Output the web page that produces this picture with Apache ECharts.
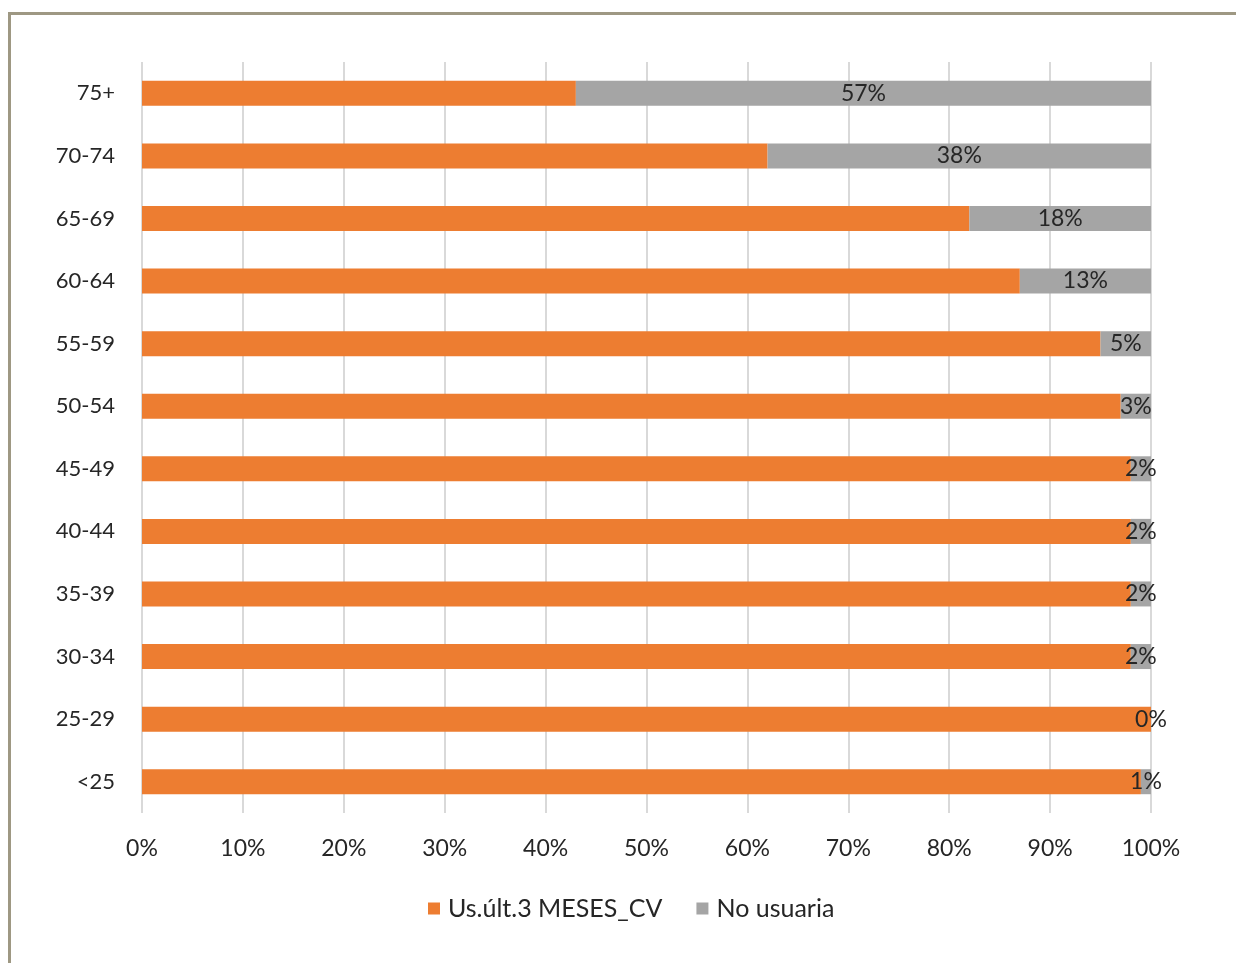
<!DOCTYPE html>
<html>
<head>
<meta charset="utf-8">
<script src="https://cdn.jsdelivr.net/npm/echarts@6/dist/echarts.min.js"></script>
<style>
  html, body { margin: 0; padding: 0; background: #ffffff; }
  #frame {
    position: absolute; left: 0; top: 0; width: 1236px; height: 963px;
    background: #ffffff; overflow: hidden;
  }
  #border {
    position: absolute; left: 8px; top: 12px; right: -10px; bottom: -10px;
    border-top: 3px solid #9e9883; border-left: 3px solid #9e9883;
  }
  #chart { position: absolute; left: 0; top: 0; width: 1236px; height: 963px; }
</style>
</head>
<body>
<div id="frame">
  <div id="border"></div>
  <div id="chart"></div>
</div>
<script>
// Age groups, listed bottom to top as drawn on the category axis
const categories = ['<25', '25-29', '30-34', '35-39', '40-44', '45-49', '50-54', '55-59', '60-64', '65-69', '70-74', '75+'];
// Share (%) of users in the last three months
const usersLast3Months = [99, 100, 98, 98, 98, 98, 97, 95, 87, 82, 62, 43];
// Share (%) of non-users
const nonUsers = [1, 0, 2, 2, 2, 2, 3, 5, 13, 18, 38, 57];
const xTicks = [0, 10, 20, 30, 40, 50, 60, 70, 80, 90, 100];

const font = 'Lato, "Open Sans", sans-serif';
const textColor = '#262626';
const chart = echarts.init(document.getElementById('chart'), null, { renderer: 'canvas' });

chart.setOption({
  animation: false,
  textStyle: { fontFamily: font },
  grid: { left: 142, right: 85, top: 62, height: 751, containLabel: false },
  legend: {
    top: 896,
    left: 428,
    itemWidth: 12,
    itemHeight: 12,
    itemGap: 34,
    padding: 0,
    icon: 'rect',
    textStyle: { fontFamily: font, fontSize: 25, color: textColor, padding: [0, 0, 0, 3] },
    data: ['Us.últ.3 MESES_CV', 'No usuaria']
  },
  xAxis: {
    type: 'value',
    min: xTicks[0],
    max: xTicks[xTicks.length - 1],
    interval: 10,
    axisLine: { show: false },
    axisTick: { show: false },
    splitLine: { show: true, lineStyle: { color: '#d9d9d9', width: 2 } },
    axisLabel: {
      margin: 24,
      fontFamily: font,
      fontSize: 23,
      color: textColor,
      formatter: v => v + '%'
    }
  },
  yAxis: {
    type: 'category',
    data: categories,
    axisLine: { show: false },
    axisTick: { show: false },
    axisLabel: { margin: 27, fontFamily: font, fontSize: 22, color: textColor }
  },
  series: [
    {
      name: 'Us.últ.3 MESES_CV',
      type: 'bar',
      stack: 'total',
      barWidth: 25,
      itemStyle: { color: '#ED7D31' },
      data: usersLast3Months
    },
    {
      name: 'No usuaria',
      type: 'bar',
      stack: 'total',
      barWidth: 25,
      itemStyle: { color: '#A5A5A5' },
      label: {
        show: true,
        position: 'inside',
        fontFamily: font,
        fontSize: 23,
        color: textColor,
        formatter: p => p.value + '%'
      },
      labelLayout: { hideOverlap: false },
      data: nonUsers
    }
  ]
});
</script>
</body>
</html>
